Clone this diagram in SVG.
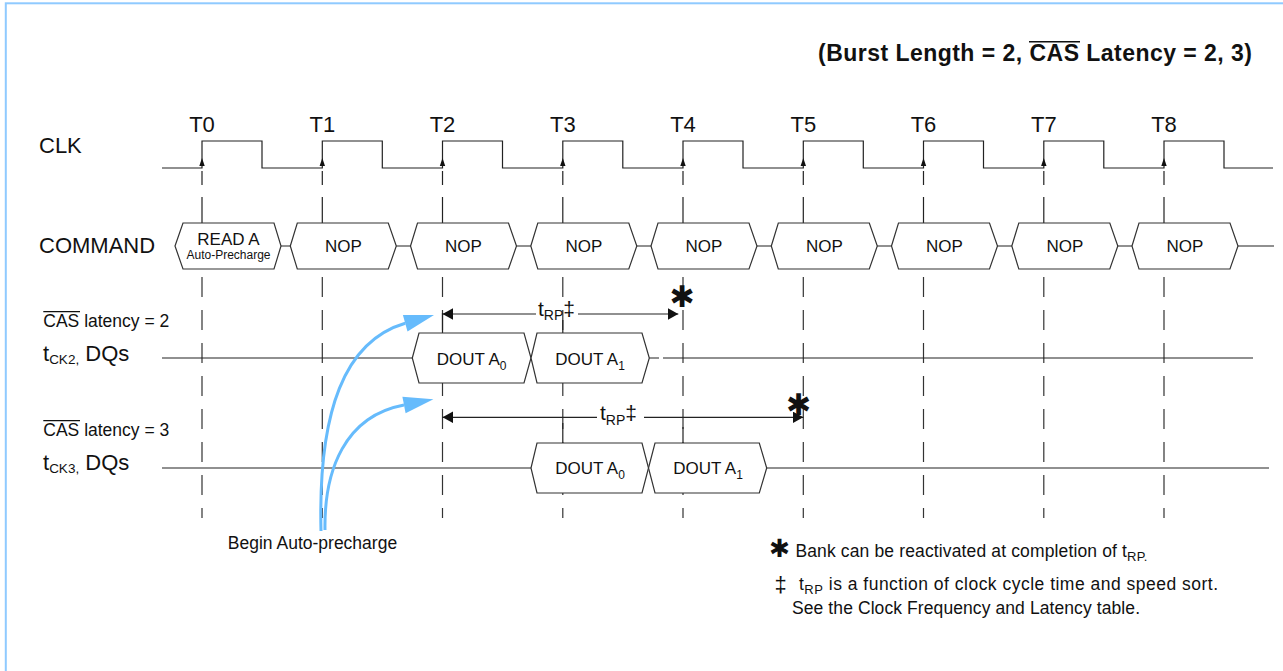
<svg xmlns="http://www.w3.org/2000/svg" width="1283" height="671" viewBox="0 0 1283 671">
<style>
text{font-family:"Liberation Sans",Arial,Helvetica,sans-serif;fill:#111}
.big{font-size:22px}
.sm{font-size:17.5px}
.cmd{font-size:17px;text-anchor:middle}
.tl{font-size:22px;text-anchor:middle}
.bold{font-weight:bold}
.star{font-family:"DejaVu Sans",sans-serif;font-weight:bold;text-anchor:middle}
.ln{stroke:#222;stroke-width:1.2;fill:none}
.dash{stroke:#333;stroke-width:1.2;stroke-dasharray:20 13;fill:none}
.hex{stroke:#333;stroke-width:1.2;fill:#fff}
.blue{stroke:#66bbfc;stroke-width:3;fill:none}
</style>
<defs>
<path id="clkarr" d="M0,-10 L-2.7,-2 L2.7,-2 Z" fill="#111"/>
<marker id="ah" markerUnits="userSpaceOnUse" markerWidth="12" markerHeight="12" refX="10.5" refY="5.75" orient="auto">
<path d="M0,0 L10.5,5.75 L0,11.5 Z" fill="#111"/>
</marker>
</defs>
<rect x="5.8" y="3.3" width="1300" height="700" fill="none" stroke="#8fcaff" stroke-width="2"/>

<text id="title" class="bold" x="818" y="61" font-size="23" textLength="434" lengthAdjust="spacing">(Burst Length = 2, CAS Latency = 2, 3)</text>
<line x1="1029" y1="41.7" x2="1080" y2="41.7" stroke="#111" stroke-width="1.6"/>

<g id="labels">
<text class="big" x="39" y="153">CLK</text>
<text class="big" x="39" y="253">COMMAND</text>
<text class="sm" x="43.3" y="326.7">CAS latency = 2</text>
<line x1="43.3" y1="311.7" x2="80" y2="311.7" stroke="#111" stroke-width="1.2"/>
<text class="big" x="43" y="361">t<tspan font-size="13.5" dy="3">CK2,</tspan><tspan dy="-3"> DQs</tspan></text>
<text class="sm" x="43.3" y="435.7">CAS latency = 3</text>
<line x1="43.3" y1="420.7" x2="80" y2="420.7" stroke="#111" stroke-width="1.2"/>
<text class="big" x="43" y="469.5">t<tspan font-size="13.5" dy="3">CK3,</tspan><tspan dy="-3"> DQs</tspan></text>
</g>

<g id="tlabels">
<text class="tl" x="202" y="132">T0</text>
<text class="tl" x="322.3" y="132">T1</text>
<text class="tl" x="442.5" y="132">T2</text>
<text class="tl" x="562.8" y="132">T3</text>
<text class="tl" x="683" y="132">T4</text>
<text class="tl" x="803.3" y="132">T5</text>
<text class="tl" x="923.5" y="132">T6</text>
<text class="tl" x="1043.8" y="132">T7</text>
<text class="tl" x="1164" y="132">T8</text>
</g>

<g id="clk">
<path class="ln" d="M162,168 H202 V141 H262 V168 H322.3 V141 H382.3 V168 H442.5 V141 H502.5 V168 H562.8 V141 H622.8 V168 H683 V141 H743 V168 H803.3 V141 H863.3 V168 H923.5 V141 H983.5 V168 H1043.8 V141 H1103.8 V168 H1164 V141 H1224 V168 H1273"/>
<use href="#clkarr" x="202" y="168"/>
<use href="#clkarr" x="322.3" y="168"/>
<use href="#clkarr" x="442.5" y="168"/>
<use href="#clkarr" x="562.8" y="168"/>
<use href="#clkarr" x="683" y="168"/>
<use href="#clkarr" x="803.3" y="168"/>
<use href="#clkarr" x="923.5" y="168"/>
<use href="#clkarr" x="1043.8" y="168"/>
<use href="#clkarr" x="1164" y="168"/>
</g>

<g id="connectors">
<path class="ln" d="M202,171V185M202,197V223 M322.3,171V185M322.3,197V223 M442.5,171V185M442.5,197V223 M562.8,171V185M562.8,197V223 M683,171V185M683,197V223 M803.3,171V185M803.3,197V223 M923.5,171V185M923.5,197V223 M1043.8,171V185M1043.8,197V223 M1164,171V185M1164,197V223"/>
<path class="dash" d="M202,277V518 M322.3,277V518 M442.5,277V518 M562.8,277V518 M683,277V518 M803.3,277V518 M923.5,277V518 M1043.8,277V518 M1164,277V518"/>
<path class="ln" d="M442.5,313V333 M562.8,320V333 M562.8,423V443 M683,427V443"/>
<path class="ln" d="M281,246H1274"/>
<path class="ln" d="M162,358H413 M649,358H659 M663,358H1253"/>
<path class="ln" d="M162,468H531 M766,468H1269"/>
<line class="ln" x1="536" y1="314" x2="442.5" y2="314" marker-end="url(#ah)"/>
<line class="ln" x1="578" y1="314" x2="678.3" y2="314" marker-end="url(#ah)"/>
<line class="ln" x1="597" y1="417.3" x2="442.5" y2="417.3" marker-end="url(#ah)"/>
<line class="ln" x1="644" y1="417.3" x2="803.3" y2="417.3" marker-end="url(#ah)"/>
<path class="blue" d="M321,531 C318,410 345,341 405.2,323.3"/>
<polygon points="434,315 407.5,331.4 402.9,315.1" fill="#66bbfc"/>
<path class="blue" d="M325,530 C324,470 345,416 404,405"/>
<polygon points="433.4,399.3 405.6,413.3 402.4,396.7" fill="#66bbfc"/>
</g>

<g id="cmd-read">
<polygon class="hex" points="175,246 183,223 274,223 281,246 274,269 183,269"/>
<text class="cmd" x="228.5" y="245">READ A</text>
<text x="228.5" y="258.5" font-size="12" text-anchor="middle">Auto-Precharge</text>
</g>
<g id="cmd-nop1"><polygon class="hex" points="290.3,246 297.3,223 388.3,223 396.3,246 388.3,269 297.3,269"/><text class="cmd" x="343.3" y="252">NOP</text></g>
<g id="cmd-nop2"><polygon class="hex" points="410.5,246 417.5,223 508.5,223 516.5,246 508.5,269 417.5,269"/><text class="cmd" x="463.5" y="252">NOP</text></g>
<g id="cmd-nop3"><polygon class="hex" points="530.8,246 537.8,223 628.8,223 636.8,246 628.8,269 537.8,269"/><text class="cmd" x="583.8" y="252">NOP</text></g>
<g id="cmd-nop4"><polygon class="hex" points="651,246 658,223 749,223 757,246 749,269 658,269"/><text class="cmd" x="704" y="252">NOP</text></g>
<g id="cmd-nop5"><polygon class="hex" points="771.3,246 778.3,223 869.3,223 877.3,246 869.3,269 778.3,269"/><text class="cmd" x="824.3" y="252">NOP</text></g>
<g id="cmd-nop6"><polygon class="hex" points="891.5,246 898.5,223 989.5,223 997.5,246 989.5,269 898.5,269"/><text class="cmd" x="944.5" y="252">NOP</text></g>
<g id="cmd-nop7"><polygon class="hex" points="1011.8,246 1018.8,223 1109.8,223 1117.8,246 1109.8,269 1018.8,269"/><text class="cmd" x="1064.8" y="252">NOP</text></g>
<g id="cmd-nop8"><polygon class="hex" points="1132,246 1139,223 1230,223 1238,246 1230,269 1139,269"/><text class="cmd" x="1185" y="252">NOP</text></g>

<g id="dq2-a0"><polygon class="hex" points="412.3,358 419,333 524,333 531,358 524,383 419,383"/><text class="cmd" x="471.6" y="364.5">DOUT A<tspan font-size="12" dy="5">0</tspan></text></g>
<g id="dq2-a1"><polygon class="hex" points="531,358 537,333 642,333 649.3,358 642,383 537,383"/><text class="cmd" x="590" y="364.5">DOUT A<tspan font-size="12" dy="5">1</tspan></text></g>
<g id="dq3-a0"><polygon class="hex" points="531,468 537,443 642,443 648.5,468 642,493 537,493"/><text class="cmd" x="590" y="474">DOUT A<tspan font-size="12" dy="5">0</tspan></text></g>
<g id="dq3-a1"><polygon class="hex" points="648.5,468 655,443 759.3,443 766.7,468 759.3,493 655,493"/><text class="cmd" x="708" y="474">DOUT A<tspan font-size="12" dy="5">1</tspan></text></g>

<g id="trp-labels">
<text x="538" y="315.5" font-size="21">t<tspan font-size="14" dy="4.5">RP</tspan><tspan dy="-4.5">‡</tspan></text>
<text x="600" y="420" font-size="21">t<tspan font-size="14" dy="4.5">RP</tspan><tspan dy="-4.5">‡</tspan></text>
<text class="star" x="682" y="306.5" font-size="30">✱</text>
<text class="star" x="798.5" y="414.5" font-size="30">✱</text>
</g>

<text id="begin" x="312.5" y="549" font-size="17.5" text-anchor="middle">Begin Auto-precharge</text>

<g id="notes">
<text class="star" x="779.7" y="557" font-size="25">✱</text>
<text class="sm" x="795.4" y="557" textLength="352" lengthAdjust="spacing">Bank can be reactivated at completion of t<tspan font-size="13" dy="4">RP.</tspan></text>
<text x="780.7" y="592" font-size="22" text-anchor="middle">‡</text>
<text class="sm" x="799" y="590" textLength="419" lengthAdjust="spacing">t<tspan font-size="13" dy="4">RP</tspan><tspan dy="-4"> is a function of clock cycle time and speed sort.</tspan></text>
<text class="sm" x="792" y="614" textLength="348" lengthAdjust="spacing">See the Clock Frequency and Latency table.</text>
</g>
</svg>
